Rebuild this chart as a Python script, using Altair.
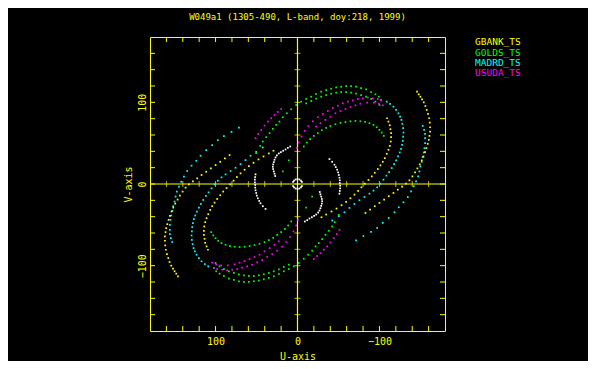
import altair as alt
import pandas as pd

TITLE = "W049a1 (1305-490, L-band, doy:218, 1999)"
STATIONS = ["GBANK_TS", "GOLDS_TS", "MADRD_TS", "USUDA_TS"]
STATION_COLORS = ["#ffff00", "#00ff00", "#00ffff", "#ff00ff"]
OTHER = "OTHER"
OTHER_COLOR = "#ffffff"
AXIS_COLOR = "#ffff00"
FONT = "DejaVu Sans Mono"
TICK_VALUES = [-160, -140, -120, -100, -80, -60, -40, -20, 0, 20, 40, 60, 80, 100, 120, 140, 160]
LABEL_VALUES = [-100, 0, 100]

# (u, v) samples; each is also plotted at (-u, -v)
GBANK_OUTER = [(-145.9, 113.0), (-148.0, 109.8), (-150.0, 106.9), (-152.0, 103.7), (-154.1, 100.0),
               (-156.1, 95.5), (-157.7, 90.7), (-159.3, 85.8), (-160.6, 80.5), (-161.4, 75.2),
               (-161.8, 69.5), (-161.8, 64.2), (-161.0, 58.9), (-160.2, 54.1), (-158.9, 49.2),
               (-157.3, 43.9), (-155.7, 39.0), (-153.7, 33.7), (-151.6, 28.9), (-149.2, 24.0),
               (-146.3, 19.1), (-143.5, 14.2), (-140.2, 9.3), (-136.6, 4.5), (-132.5, 0.4),
               (-127.6, -3.3), (-122.4, -6.9), (-117.1, -11.0), (-111.4, -15.0), (-105.7, -19.1),
               (-100.0, -23.2), (-94.3, -27.2), (-88.6, -31.3), (-82.9, -35.4)]
GBANK_INNER = [(-109.3, 80.5), (-111.0, 76.4), (-112.6, 72.0), (-113.4, 67.1), (-114.2, 62.2),
               (-114.2, 57.3), (-113.8, 52.0), (-112.6, 46.7), (-111.0, 41.9), (-108.9, 37.0),
               (-106.5, 31.7), (-104.1, 27.2), (-101.2, 22.8), (-98.0, 18.3), (-94.3, 13.8),
               (-90.7, 9.3), (-86.6, 4.9), (-82.1, 0.4), (-78.0, -4.1), (-74.0, -8.5),
               (-69.5, -13.0), (-64.6, -17.5), (-59.3, -22.0), (-53.7, -26.0), (-47.6, -30.1),
               (-41.5, -33.7), (-35.0, -37.4), (-29.3, -40.7)]
GOLDS_OUTER_A = [(-102.0, 102.8), (-99.2, 106.9), (-95.1, 109.8), (-89.8, 112.6), (-83.7, 115.9),
                 (-77.6, 117.5), (-71.5, 119.1), (-65.4, 119.9), (-59.3, 119.9), (-53.3, 119.1),
                 (-47.2, 118.3), (-41.1, 116.7), (-35.0, 115.0), (-28.9, 113.0), (-22.8, 110.2),
                 (-16.7, 106.9), (-10.6, 104.1), (-4.5, 100.8), (1.6, 96.7), (7.7, 91.5),
                 (13.0, 86.6), (17.9, 81.7), (22.0, 76.4), (26.0, 72.4), (30.1, 67.5),
                 (34.1, 62.2), (38.2, 57.3), (42.3, 52.0), (45.5, 46.7), (50.4, 37.8)]
GOLDS_OUTER_B = [(-100.0, 96.7), (-95.1, 100.8), (-89.8, 104.1), (-83.7, 106.9), (-77.6, 108.9),
                 (-71.5, 110.6), (-65.4, 111.8), (-59.3, 112.6), (-53.3, 112.6), (-47.2, 111.8),
                 (-41.1, 110.6), (-35.0, 108.9), (-28.9, 106.9), (-22.8, 104.5), (-16.7, 101.6),
                 (-10.6, 98.8)]
GOLDS_INNER = [(-105.3, 58.9), (-102.8, 63.0), (-100.0, 66.3), (-96.7, 69.5), (-92.7, 72.4),
               (-87.8, 74.4), (-82.5, 76.0), (-76.8, 76.8), (-70.7, 77.2), (-64.6, 76.8),
               (-58.5, 76.0), (-52.4, 74.8), (-46.3, 73.2), (-40.2, 71.1), (-35.0, 68.7),
               (-29.7, 65.9), (-24.8, 62.2), (-19.9, 58.9), (-15.4, 54.9), (-11.4, 50.8),
               (-7.7, 45.9)]
GOLDS_SPARSE = [(10.6, 28.9), (17.9, 15.4)]
MADRD_OUTER = [(-152.8, 71.1), (-154.5, 66.3), (-155.7, 61.4), (-155.7, 56.1), (-155.7, 50.0),
               (-154.9, 43.9), (-154.1, 38.6), (-152.8, 32.9), (-151.6, 27.2), (-150.0, 21.5),
               (-148.8, 15.4), (-147.2, 9.3), (-144.7, 3.3), (-141.9, -2.8), (-138.6, -8.9),
               (-134.6, -15.9), (-129.3, -22.4), (-123.6, -28.5), (-118.3, -34.6), (-111.4, -41.5),
               (-104.1, -47.6), (-97.2, -53.7), (-89.8, -58.5), (-80.5, -63.8), (-71.5, -69.1)]
MADRD_INNER = [(-108.9, 100.8), (-113.0, 98.0), (-117.1, 94.7), (-120.3, 90.7), (-123.2, 86.6),
               (-125.2, 82.5), (-126.8, 78.5), (-128.0, 73.6), (-128.9, 68.3), (-129.3, 63.0),
               (-128.9, 58.1), (-128.5, 52.8), (-127.6, 48.0), (-126.4, 43.1), (-124.8, 38.6),
               (-122.8, 33.7), (-120.3, 28.9), (-117.9, 24.4), (-115.0, 19.5), (-111.8, 14.6),
               (-108.5, 10.2), (-104.9, 5.3), (-101.2, 0.4), (-97.2, -4.1), (-92.7, -8.1),
               (-87.8, -11.8), (-81.7, -15.9), (-75.6, -19.9), (-69.5, -24.4), (-63.4, -29.3),
               (-57.3, -34.6), (-50.4, -39.4), (-42.3, -44.7)]
USUDA_OUTER = [(-102.0, 102.8), (-98.0, 104.1), (-91.9, 104.9), (-85.8, 105.7), (-79.7, 104.9),
               (-73.6, 104.1), (-67.5, 102.4), (-61.4, 100.8), (-55.3, 98.8), (-49.2, 95.9),
               (-43.1, 93.1), (-37.0, 89.4), (-30.9, 85.8), (-24.8, 81.7), (-18.7, 76.8),
               (-13.4, 71.1), (-8.9, 65.0), (-4.9, 58.1), (-1.6, 50.8), (0.8, 43.9)]
USUDA_INNER = [(-104.1, 96.3), (-99.2, 98.4), (-93.1, 99.6), (-85.0, 99.6), (-76.8, 98.4),
               (-70.7, 96.3), (-64.6, 94.3), (-58.5, 91.9), (-52.4, 89.4), (-46.3, 86.6),
               (-40.2, 82.5), (-34.1, 78.5), (-28.0, 74.4), (-22.8, 70.3)]
USUDA_DIAG = [(19.9, 91.9), (24.0, 88.2), (28.0, 84.6), (32.1, 80.5), (36.2, 76.4),
              (40.2, 71.5), (44.3, 66.3), (48.0, 61.4), (51.2, 56.1)]
WHITE_LEFT = [(8.9, 45.9), (11.8, 44.3), (14.6, 42.3), (17.5, 40.7), (20.3, 39.0), (22.8, 37.4),
              (25.2, 35.0), (26.8, 32.5), (28.0, 29.7), (28.9, 26.8), (29.7, 24.0), (30.1, 21.1),
              (29.7, 18.3), (28.9, 15.4), (28.0, 12.6), (27.2, 9.8)]
WHITE_RIGHT = [(-39.0, 30.5), (-42.3, 27.2), (-45.1, 23.6), (-46.7, 20.7), (-48.4, 17.5),
               (-49.6, 14.2), (-50.4, 11.0), (-51.2, 7.7), (-51.6, 4.5), (-51.6, 1.2),
               (-52.0, -2.0), (-52.0, -5.3), (-51.6, -8.5), (-51.2, -11.8)]
WHITE_CENTRE = [(5.4, 2.5), (4.2, 4.2), (2.3, 5.5), (0.0, 6.0), (-2.3, 5.5), (-4.2, 4.2), (-5.4, 2.5)]

TRACKS = [
    (OTHER, WHITE_LEFT), (OTHER, WHITE_RIGHT), (OTHER, WHITE_CENTRE),
    ("MADRD_TS", MADRD_OUTER), ("MADRD_TS", MADRD_INNER),
    ("GOLDS_TS", GOLDS_OUTER_A), ("GOLDS_TS", GOLDS_OUTER_B), ("GOLDS_TS", GOLDS_INNER),
    ("GOLDS_TS", GOLDS_SPARSE),
    ("USUDA_TS", USUDA_OUTER), ("USUDA_TS", USUDA_INNER), ("USUDA_TS", USUDA_DIAG),
    ("GBANK_TS", GBANK_OUTER), ("GBANK_TS", GBANK_INNER),
]

rows = []
for station, pts in TRACKS:
    for u, v in pts:
        rows.append({"u": u, "v": v, "station": station})
        rows.append({"u": -u, "v": -v, "station": station})  # conjugate baseline
df = pd.DataFrame(rows)

W, H, TL = 295, 294, 5
xs = alt.Scale(domain=[-180, 180], reverse=True, nice=False, zero=False)
ys = alt.Scale(domain=[-180, 180], nice=False, zero=False)

tick_df = pd.DataFrame({"t": TICK_VALUES, "z": [0] * len(TICK_VALUES)})
zero_df = pd.DataFrame({"z": [0]})

x_axis = alt.Axis(values=LABEL_VALUES, domain=False, ticks=False, tickSize=0, grid=False,
                  labelColor=AXIS_COLOR, labelFont=FONT, labelFontSize=10, labelPadding=5,
                  labelFlush=False, labelOverlap=False,
                  title="U-axis", titleColor=AXIS_COLOR, titleFont=FONT, titleFontSize=10,
                  titleFontWeight="normal", titleX=W / 2, titleY=25, titleAlign="center",
                  titleBaseline="middle")
y_axis = alt.Axis(values=LABEL_VALUES, domain=False, ticks=False, tickSize=0, grid=False,
                  labelColor=AXIS_COLOR, labelFont=FONT, labelFontSize=10, labelPadding=3,
                  labelAngle=270, labelAlign="center", labelBaseline="bottom",
                  labelFlush=False, labelOverlap=False,
                  title="V-axis", titleColor=AXIS_COLOR, titleFont=FONT, titleFontSize=10,
                  titleFontWeight="normal", titleAngle=270, titleX=-22, titleY=H / 2,
                  titleAlign="center", titleBaseline="middle")


def X(field):
    return alt.X(field, scale=xs, axis=x_axis)


def Y(field):
    return alt.Y(field, scale=ys, axis=y_axis)


vline = alt.Chart(zero_df).mark_rule(color=AXIS_COLOR, strokeWidth=1.2).encode(x=X("z:Q"))
hline = alt.Chart(zero_df).mark_rule(color=AXIS_COLOR, strokeWidth=1.2).encode(y=Y("z:Q"))

rule = dict(color=AXIS_COLOR, strokeWidth=1)
t_bottom = alt.Chart(tick_df).mark_rule(**rule).encode(
    x=X("t:Q"), y=alt.value(H), y2=alt.value(H - TL))
t_top = alt.Chart(tick_df).mark_rule(**rule).encode(
    x=X("t:Q"), y=alt.value(0), y2=alt.value(TL))
t_left = alt.Chart(tick_df).mark_rule(**rule).encode(
    y=Y("t:Q"), x=alt.value(0), x2=alt.value(TL))
t_right = alt.Chart(tick_df).mark_rule(**rule).encode(
    y=Y("t:Q"), x=alt.value(W), x2=alt.value(W - TL))
t_hx = alt.Chart(tick_df).mark_tick(orient="vertical", size=6, thickness=1, color=AXIS_COLOR).encode(
    x=X("t:Q"), y=Y("z:Q"))
t_vy = alt.Chart(tick_df).mark_tick(orient="horizontal", size=6, thickness=1, color=AXIS_COLOR).encode(
    y=Y("t:Q"), x=X("z:Q"))

points = alt.Chart(df).mark_square(size=3, opacity=1).encode(
    x=X("u:Q"),
    y=Y("v:Q"),
    color=alt.Color("station:N",
                    scale=alt.Scale(domain=STATIONS + [OTHER], range=STATION_COLORS + [OTHER_COLOR]),
                    legend=None),
)

LEGEND_X = 325
LEGEND_Y = [5.3, 15.7, 25.7, 35.7]
legend_layers = []
for name, col, ly in zip(STATIONS, STATION_COLORS, LEGEND_Y):
    legend_layers.append(
        alt.Chart(pd.DataFrame({"name": [name]})).mark_text(
            align="left", baseline="middle", font=FONT, fontSize=9.5, color=col
        ).encode(text="name:N", x=alt.value(LEGEND_X), y=alt.value(ly))
    )

chart = alt.layer(vline, hline, t_bottom, t_top, t_left, t_right, t_hx, t_vy, points,
                  *legend_layers).properties(
    width=W, height=H,
    title=alt.TitleParams(TITLE, anchor="middle", color=AXIS_COLOR, font=FONT, fontSize=9,
                          fontWeight="normal", offset=14),
    autosize=alt.AutoSizeParams(type="none"),
    padding={"left": 142, "top": 29, "right": 143, "bottom": 30},
).configure(background="#000000").configure_view(stroke=AXIS_COLOR, strokeWidth=1)

chart.save("out.html", embed_options={"renderer": "svg", "actions": False})
